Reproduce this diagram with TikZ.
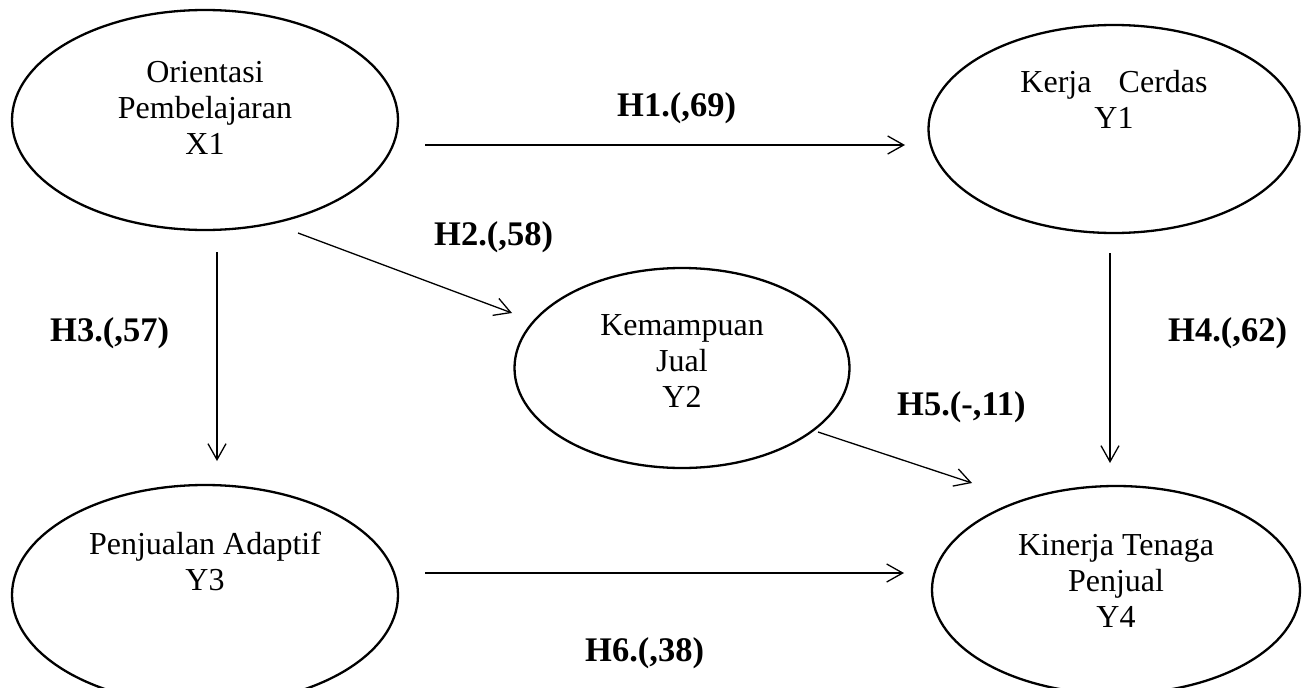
\documentclass[tikz,border=0pt]{standalone}
\usepackage{fontspec}
\setmainfont{Liberation Serif}
\usetikzlibrary{shapes.geometric,arrows.meta}
\begin{document}
\begin{tikzpicture}[x=1pt,y=-1pt,
  latent/.style={draw,ellipse,line width=2.3pt,inner sep=0pt},
  lbl/.style={font=\fontsize{32}{36}\selectfont, align=center, anchor=base, inner sep=0pt},
  hyp/.style={font=\fontsize{34.5}{38}\selectfont\bfseries, anchor=base west, inner sep=0pt},
  conn/.style={line width=1.3pt,-{Straight Barb[length=16pt,width=18pt]}}]
\fill[white] (0,0) rectangle (1307,688);
\clip (0,0) rectangle (1307,688);
% ellipses
\node[latent, minimum width=386pt, minimum height=220pt] (X1) at (205,120) {};
\node[latent, minimum width=371pt, minimum height=208pt] (Y1) at (1114,129) {};
\node[latent, minimum width=335pt, minimum height=200pt] (Y2) at (682,368) {};
\node[latent, minimum width=386pt, minimum height=220pt] (Y3) at (205,595) {};
\node[latent, minimum width=368pt, minimum height=208pt] (Y4) at (1116,590) {};
% texts (base anchor = baseline of last line)
\node[lbl] (X1t) at (205,154) {Orientasi\\Pembelajaran\\X1};
\node[lbl] (Y1t) at (1114,128) {Kerja\hspace{0.85em}Cerdas\\Y1};
\node[lbl] (Y2t) at (682,407) {Kemampuan\\Jual\\Y2};
\node[lbl] (Y3t) at (205,590) {Penjualan Adaptif\\Y3};
\node[lbl] (Y4t) at (1116,627) {Kinerja Tenaga\\Penjual\\Y4};
% connector end points
\coordinate (a1) at (425,145); \coordinate (b1) at (905,145);
\coordinate (a2) at (298,233); \coordinate (b2) at (512,313);
\coordinate (a3) at (217,252); \coordinate (b3) at (217,461);
\coordinate (a4) at (1110,253); \coordinate (b4) at (1110,463);
\coordinate (a5) at (818,432); \coordinate (b5) at (972,483);
\coordinate (a6) at (425,573); \coordinate (b6) at (904,573);
\draw[conn] (a1) -- (b1);
\draw[conn] (a2) -- (b2);
\draw[conn] (a3) -- (b3);
\draw[conn] (a4) -- (b4);
\draw[conn] (a5) -- (b5);
\draw[conn] (a6) -- (b6);
% labels
\node[hyp] (h1) at (617,116) {H1.(,69)};
\node[hyp] (h2) at (434,245) {H2.(,58)};
\node[hyp] (h3) at (50,341) {H3.(,57)};
\node[hyp] (h4) at (1168,341) {H4.(,62)};
\node[hyp] (h5) at (897,415) {H5.(-,11)};
\node[hyp] (h6) at (585,661) {H6.(,38)};
\end{tikzpicture}
\end{document}
